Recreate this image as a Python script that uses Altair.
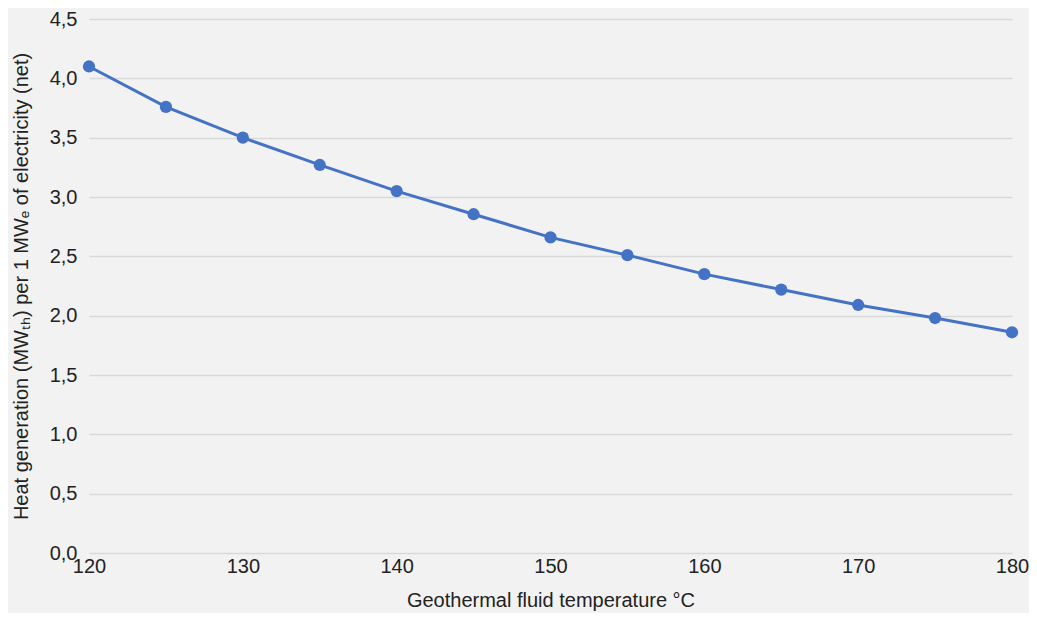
import altair as alt
import pandas as pd

temps = [120, 125, 130, 135, 140, 145, 150, 155, 160, 165, 170, 175, 180]
heat = [4.10, 3.76, 3.50, 3.27, 3.05, 2.855, 2.66, 2.51, 2.35, 2.22, 2.09, 1.98, 1.86]

df = pd.DataFrame({"t": temps, "h": heat})
BLUE = "#4472C4"

x = alt.X("t:Q", scale=alt.Scale(domain=[120, 180], nice=False, zero=False),
          axis=alt.Axis(title="Geothermal fluid temperature °C", values=[120, 130, 140, 150, 160, 170, 180],
                        grid=False, domain=False, ticks=False, labelPadding=3, titlePadding=14,
                        labelFlush=False))
y = alt.Y("h:Q", scale=alt.Scale(domain=[0, 4.5], nice=False),
          axis=alt.Axis(title="Heat generation (MWₜₕ) per 1 MWₑ of electricity (net)",
                        values=[0, 0.5, 1, 1.5, 2, 2.5, 3, 3.5, 4, 4.5],
                        labelExpr="replace(format(datum.value, '.1f'), '.', ',')",
                        domain=False, ticks=False, labelPadding=12, titlePadding=18,
                        labelFlush=False,
                        gridColor="#d9d9d9", gridWidth=1.3))

line = alt.Chart(df).mark_line(color=BLUE, strokeWidth=3).encode(x=x, y=y)
pts = alt.Chart(df).mark_point(filled=True, color=BLUE, size=150, opacity=1).encode(x=x, y=y)

chart = (line + pts).properties(
    width=923, height=534,
    autosize=alt.AutoSizeParams(type="none"),
    padding={"left": 81, "top": 11, "right": 17, "bottom": 60},
    background="#f2f2f2",
).configure_view(stroke=None).configure_axis(
    labelFont="Liberation Sans", titleFont="Liberation Sans",
    labelFontSize=20, titleFontSize=20, labelColor="#222222", titleColor="#222222",
    titleFontWeight="normal",
)

chart.save("out.html", embed_options={"renderer": "svg", "actions": False})
